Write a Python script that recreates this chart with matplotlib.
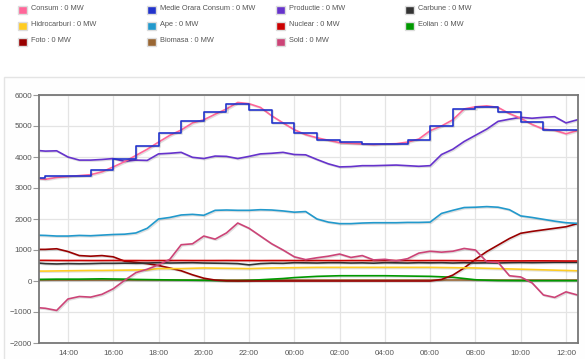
import numpy as np
import matplotlib
matplotlib.use("Agg")
import matplotlib.pyplot as plt
import matplotlib.patheffects as pe
from matplotlib.patches import Rectangle

plt.rcParams['font.family'] = ['Liberation Sans', 'DejaVu Sans']

# half-hour samples, hours counted from midnight of day 1 (12:30 -> 36:30)
hours = [12.5 + 0.5 * i for i in range(49)]

consum = [3320, 3280, 3340, 3370, 3400, 3430, 3520, 3680, 3850, 4050, 4250, 4480,
          4700, 4870, 5100, 5200, 5380, 5550, 5760, 5720, 5600, 5330, 5100, 4880,
          4720, 4620, 4540, 4460, 4440, 4420, 4400, 4420, 4430, 4480, 4580, 4850,
          5000, 5200, 5550, 5620, 5650, 5600, 5400, 5250, 5050, 4900, 4860, 4750, 4850]
productie = [4220, 4190, 4200, 4000, 3900, 3900, 3920, 3950, 3860, 3900, 3890, 4100,
             4120, 4150, 3990, 3950, 4030, 4020, 3950, 4020, 4100, 4120, 4150, 4080,
             4070, 3920, 3780, 3680, 3690, 3720, 3720, 3730, 3740, 3720, 3700, 3720,
             4080, 4250, 4500, 4700, 4900, 5150, 5220, 5280, 5250, 5280, 5300, 5100, 5200]
ape = [1480, 1470, 1450, 1450, 1470, 1460, 1480, 1500, 1510, 1550, 1700, 2000,
       2050, 2130, 2150, 2120, 2280, 2290, 2280, 2280, 2300, 2290, 2260, 2220,
       2240, 2000, 1900, 1850, 1850, 1870, 1880, 1880, 1880, 1890, 1890, 1900,
       2180, 2280, 2370, 2380, 2400, 2380, 2300, 2100, 2050, 1990, 1930, 1880, 1860]
nuclear = [665, 665, 662, 660, 662, 660, 660, 662, 660, 660, 658, 660,
           660, 662, 660, 660, 660, 662, 660, 660, 658, 660, 660, 660,
           658, 660, 660, 658, 660, 660, 658, 660, 660, 660, 658, 660,
           660, 658, 655, 655, 652, 650, 650, 648, 650, 650, 648, 645, 645]
carbune = [590, 560, 550, 560, 555, 560, 570, 570, 575, 570, 580, 590,
           580, 585, 590, 580, 575, 570, 560, 520, 560, 575, 570, 590,
           585, 580, 590, 590, 580, 585, 575, 590, 585, 580, 590, 585,
           590, 580, 590, 580, 585, 580, 590, 595, 590, 595, 600, 600, 600]
hidrocarburi = [320, 320, 325, 330, 335, 340, 340, 345, 350, 355, 360, 400,
                400, 400, 410, 420, 415, 410, 405, 400, 410, 420, 425, 430,
                435, 440, 440, 440, 440, 440, 440, 440, 440, 440, 440, 440,
                435, 430, 425, 420, 410, 400, 390, 380, 370, 360, 350, 340, 330]
eolian = [50, 55, 60, 60, 60, 65, 70, 65, 60, 50, 45, 40,
          35, 30, 25, 20, 15, 10, 10, 20, 40, 60, 80, 110,
          130, 150, 160, 170, 170, 170, 170, 170, 165, 160, 155, 150,
          135, 120, 80, 40, 25, 15, 12, 10, 10, 10, 10, 10, 10]
biomasa = [30] * 49
foto = [1020, 1020, 1040, 950, 820, 800, 820, 780, 640, 600, 560, 500,
        420, 330, 200, 90, 30, 5, 0, 0, 0, 0, 0, 0,
        0, 0, 0, 0, 0, 0, 0, 0, 0, 0, 0, 0,
        50, 190, 420, 700, 950, 1160, 1370, 1540, 1600, 1650, 1700, 1750, 1850]
sold = [-850, -880, -950, -580, -500, -520, -430, -250, 20, 270, 380, 520,
        700, 1170, 1200, 1450, 1350, 1550, 1870, 1700, 1450, 1200, 1000, 780,
        690, 750, 800, 870, 760, 820, 680, 700, 650, 720, 900, 960,
        930, 960, 1050, 1000, 620, 600, 170, 130, -60, -450, -530, -350, -450]

# hourly average consumption (step line)
step_hours = list(range(12, 37))
medie_orara = [3320, 3380, 3390, 3580, 3950, 4370, 4770, 5160, 5450, 5710, 5510, 5090,
               4770, 4550, 4470, 4420, 4420, 4550, 5010, 5540, 5625, 5440, 5120, 4870, 4870]

tick_hours = [14, 16, 18, 20, 22, 24, 26, 28, 30, 32, 34, 36]
tick_labels = ['14:00', '16:00', '18:00', '20:00', '22:00', '00:00',
               '02:00', '04:00', '06:00', '08:00', '10:00', '12:00']

legend_items = [
    ('Consum : 0 MW', '#ff6699'), ('Medie Orara Consum : 0 MW', '#2233cc'),
    ('Productie : 0 MW', '#6633cc'), ('Carbune : 0 MW', '#333333'),
    ('Hidrocarburi : 0 MW', '#ffcc22'), ('Ape : 0 MW', '#2299cc'),
    ('Nuclear : 0 MW', '#cc0000'), ('Eolian : 0 MW', '#009900'),
    ('Foto : 0 MW', '#990000'), ('Biomasa : 0 MW', '#996633'),
    ('Sold : 0 MW', '#cc4477'),
]
colors = dict((lbl.split(' :')[0], c) for lbl, c in legend_items)

fig = plt.figure(figsize=(5.85, 3.59), dpi=100)
fig.patch.set_facecolor('white')

# chart container box
fig.patches.append(Rectangle((4 / 585, -0.05), 1.0, 1 - 77 / 359 + 0.05,
                             transform=fig.transFigure, facecolor='#fefefe',
                             edgecolor='#e4e4e4', linewidth=1.0, zorder=-5))

# html-style legend on top
col_x = [18, 147, 276, 405]
row_y = [9, 25, 41]
for i, (lbl, c) in enumerate(legend_items):
    x = col_x[i % 4]
    y = row_y[i // 4]
    fig.patches.append(Rectangle((x / 585, 1 - (y + 4.5) / 359), 9 / 585, 8 / 359,
                                 transform=fig.transFigure, facecolor=c,
                                 edgecolor='#dddddd', linewidth=1.0, zorder=-4))
    fig.text((x + 13) / 585, 1 - y / 359, lbl, fontsize=5.3, color='#555555',
             va='center', ha='left')

ax = fig.add_axes([39 / 585, 1 - 343 / 359, (578 - 39) / 585, (343 - 95) / 359])
ax.set_zorder(2)
ax.set_facecolor('white')

shadow = [pe.SimpleLineShadow(offset=(0.8, -0.8), alpha=0.12, shadow_color='black'), pe.Normal()]

def draw(x, y, name, **kw):
    ax.plot(x, y, color=colors[name], linewidth=1.2, path_effects=shadow,
            solid_joinstyle='round', **kw)

draw(hours, biomasa, 'Biomasa')
draw(hours, eolian, 'Eolian')
draw(hours, foto, 'Foto')
draw(hours, hidrocarburi, 'Hidrocarburi')
draw(hours, carbune, 'Carbune')
draw(hours, nuclear, 'Nuclear')
draw(hours, sold, 'Sold')
draw(hours, ape, 'Ape')
draw(hours, productie, 'Productie')
draw(hours, consum, 'Consum')
draw(step_hours + [37], medie_orara + [medie_orara[-1]], 'Medie Orara Consum',
     drawstyle='steps-post')

ax.set_xlim(12.72, 36.53)
ax.set_ylim(-2000, 6000)
ax.set_yticks(np.arange(-2000, 6001, 1000))
ax.set_xticks(tick_hours)
ax.set_xticklabels(tick_labels)
ax.grid(True, color='#e4e4e4', linewidth=0.9)
ax.set_axisbelow(True)
for s in ax.spines.values():
    s.set_color('#777777')
    s.set_linewidth(1.3)
ax.tick_params(axis='y', length=4, width=0.8, color='#999999', labelsize=5.8,
               labelcolor='#555555', pad=1)
ax.tick_params(axis='x', length=0, labelsize=5.8, labelcolor='#555555', pad=5)

fig.savefig('out.png', dpi=100, facecolor='white')
